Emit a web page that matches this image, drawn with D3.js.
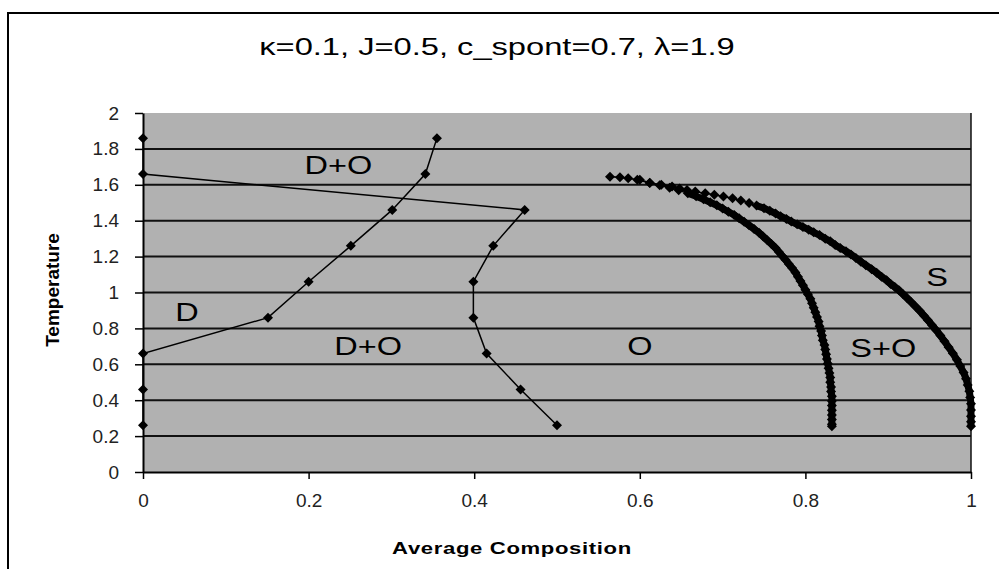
<!DOCTYPE html>
<html>
<head>
<meta charset="utf-8">
<script src="https://cdn.jsdelivr.net/npm/d3@7"></script>
<style>
  body { margin: 0; background: #fff; }
  svg text { font-family: "Liberation Sans", Arial, sans-serif; }
</style>
</head>
<body>
<div id="chart"></div>
<script>
// =========================
// DATA
// =========================
const title = "\u03ba=0.1, J=0.5, c_spont=0.7, \u03bb=1.9";
const xTitle = "Average Composition";
const yTitle = "Temperature";

const xTicks = [0, 0.2, 0.4, 0.6, 0.8, 1];
const yTicks = [0, 0.2, 0.4, 0.6, 0.8, 1, 1.2, 1.4, 1.6, 1.8, 2];

// boundary D+O / O (starts on the axis at high T)
const doRightX = [0, 0, 0.461, 0.423, 0.399, 0.399, 0.415, 0.456, 0.5];
const doRightT = [1.86, 1.66, 1.46, 1.26, 1.06, 0.86, 0.66, 0.46, 0.26];

// boundary D / D+O
const doLeftX = [0.355, 0.341, 0.301, 0.251, 0.2, 0.151, 0, 0, 0];
const doLeftT = [1.86, 1.66, 1.46, 1.26, 1.06, 0.86, 0.66, 0.46, 0.26];

// outer branch (S / S+O)
const sOuter = [
  [0.564, 1.645], [0.576, 1.642], [0.586, 1.636], [0.597, 1.628], [0.612, 1.610],
  [0.626, 1.600], [0.639, 1.590], [0.648, 1.580], [0.657, 1.571], [0.667, 1.562],
  [0.679, 1.553], [0.690, 1.545], [0.701, 1.535], [0.712, 1.525], [0.722, 1.512],
  [0.732, 1.499], [0.741, 1.484], [0.750, 1.470], [0.757, 1.455], [0.764, 1.440],
  [0.770, 1.425], [0.777, 1.410], [0.783, 1.395], [0.790, 1.380], [0.797, 1.365],
  [0.804, 1.350], [0.810, 1.335], [0.817, 1.320], [0.824, 1.300], [0.830, 1.285],
  [0.836, 1.265], [0.842, 1.248], [0.849, 1.230], [0.855, 1.212], [0.861, 1.192],
  [0.867, 1.172], [0.873, 1.152], [0.880, 1.130], [0.886, 1.110], [0.892, 1.088],
  [0.898, 1.068], [0.903, 1.048], [0.908, 1.030], [0.913, 1.012], [0.918, 0.990],
  [0.923, 0.968], [0.928, 0.945], [0.933, 0.922], [0.938, 0.898], [0.943, 0.872],
  [0.948, 0.845], [0.953, 0.818], [0.958, 0.790], [0.963, 0.760], [0.968, 0.728],
  [0.973, 0.695], [0.978, 0.662], [0.983, 0.625], [0.987, 0.590], [0.991, 0.555],
  [0.994, 0.520], [0.996, 0.485], [0.998, 0.450], [0.999, 0.415], [1.0, 0.380],
  [1.0, 0.345], [1.0, 0.310], [1.0, 0.280], [1.0, 0.255]
];

// inner branch (S+O / O)
const sInner = [
  [0.600, 1.628], [0.612, 1.612], [0.624, 1.598], [0.636, 1.584], [0.647, 1.569],
  [0.658, 1.553], [0.668, 1.536], [0.677, 1.519], [0.685, 1.503], [0.693, 1.486],
  [0.700, 1.468], [0.707, 1.450], [0.714, 1.432], [0.720, 1.413], [0.726, 1.394],
  [0.732, 1.374], [0.738, 1.354], [0.744, 1.333], [0.749, 1.312], [0.754, 1.291],
  [0.759, 1.270], [0.764, 1.248], [0.768, 1.226], [0.772, 1.204], [0.776, 1.182],
  [0.780, 1.159], [0.784, 1.136], [0.788, 1.112], [0.791, 1.088], [0.794, 1.064],
  [0.797, 1.040], [0.800, 1.015], [0.803, 0.990], [0.806, 0.965], [0.808, 0.940],
  [0.810, 0.915], [0.812, 0.890], [0.814, 0.864], [0.816, 0.838], [0.817, 0.812],
  [0.819, 0.786], [0.820, 0.760], [0.821, 0.734], [0.823, 0.708], [0.824, 0.682],
  [0.825, 0.656], [0.826, 0.630], [0.827, 0.604], [0.828, 0.578], [0.829, 0.552],
  [0.830, 0.526], [0.830, 0.500], [0.831, 0.474], [0.831, 0.448], [0.832, 0.422],
  [0.832, 0.396], [0.832, 0.370], [0.832, 0.344], [0.832, 0.318], [0.832, 0.292],
  [0.832, 0.266], [0.832, 0.255]
];

// region labels
const regionNames = ["D+O", "D", "D+O", "O", "S+O", "S"];
const regionX = [0.236, 0.053, 0.272, 0.600, 0.894, 0.959];
const regionT = [1.71, 0.89, 0.70, 0.70, 0.69, 1.086];

// =========================
// SETUP
// =========================
const width = 999;
const height = 569;
const margin = { top: 113, right: 28, bottom: 97, left: 143 };
const innerW = width - margin.left - margin.right;
const innerH = height - margin.top - margin.bottom;

const svg = d3.select("#chart")
  .append("svg")
  .attr("width", width)
  .attr("height", height);

// outer chart border
svg.append("path")
  .attr("d", `M8,${height + 2} L8,13 L${width + 2},13`)
  .attr("fill", "none")
  .attr("stroke", "#000")
  .attr("stroke-width", 2);

const g = svg.append("g")
  .attr("transform", `translate(${margin.left},${margin.top})`);

const x = d3.scaleLinear().domain([0, 1]).range([0, innerW]);
const y = d3.scaleLinear().domain([0, 2]).range([innerH, 0]);

// =========================
// PLOT AREA + GRID
// =========================
g.append("rect")
  .attr("width", innerW)
  .attr("height", innerH)
  .attr("fill", "#b1b1b1");

g.append("g")
  .selectAll("line")
  .data(yTicks.filter(d => d > 0 && d < 2))
  .enter()
  .append("line")
  .attr("x1", 0)
  .attr("x2", innerW)
  .attr("y1", d => y(d))
  .attr("y2", d => y(d))
  .attr("stroke", "#111")
  .attr("stroke-width", 2);

g.append("line")
  .attr("x1", innerW).attr("x2", innerW)
  .attr("y1", 0).attr("y2", innerH)
  .attr("stroke", "#111")
  .attr("stroke-width", 1.5);

// =========================
// AXES
// =========================
const fmt = d3.format("~g");

const xAxis = g.append("g")
  .attr("transform", `translate(0,${innerH})`)
  .call(d3.axisBottom(x).tickValues(xTicks).tickFormat(fmt).tickSize(7).tickSizeOuter(0).tickPadding(15));

const yAxis = g.append("g")
  .call(d3.axisLeft(y).tickValues(yTicks).tickFormat(fmt).tickSize(8).tickSizeOuter(0).tickPadding(16));

[xAxis, yAxis].forEach(ax => {
  ax.select(".domain").attr("stroke", "#000").attr("stroke-width", 2);
  ax.selectAll(".tick line").attr("stroke", "#000").attr("stroke-width", 1.5);
  ax.selectAll(".tick text")
    .attr("fill", "#222")
    .style("font-size", "19px")
    .style("font-family", "'Liberation Sans', Arial, sans-serif");
});

// =========================
// SERIES
// =========================
const line = d3.line().x(d => x(d[0])).y(d => y(d[1]));
const diamond = r => `M0,${-r}L${r},0L0,${r}L${-r},0Z`;

const thinSeries = [
  doRightX.map((v, i) => [v, doRightT[i]]),
  doLeftX.map((v, i) => [v, doLeftT[i]])
];

function drawMarkers(pts, r) {
  g.append("g")
    .selectAll("path")
    .data(pts)
    .enter()
    .append("path")
    .attr("d", diamond(r))
    .attr("transform", d => `translate(${x(d[0])},${y(d[1])})`)
    .attr("fill", "#000");
}

thinSeries.forEach(pts => {
  g.append("path")
    .attr("d", line(pts))
    .attr("fill", "none")
    .attr("stroke", "#000")
    .attr("stroke-width", 1.5);
  drawMarkers(pts, 5);
});

// dense series: the overlapping markers read as a thick band
[[sOuter, 16], [sInner, 5]].forEach(([pts, bandStart]) => {
  g.append("path")
    .attr("d", line(pts))
    .attr("fill", "none")
    .attr("stroke", "#000")
    .attr("stroke-width", 1.5);
  g.append("path")
    .attr("d", line(pts.slice(bandStart)))
    .attr("fill", "none")
    .attr("stroke", "#000")
    .attr("stroke-linejoin", "round")
    .attr("stroke-width", 7);
  drawMarkers(pts, 5);
});

// =========================
// REGION LABELS
// =========================
g.append("g")
  .selectAll("text")
  .data(regionNames)
  .enter()
  .append("text")
  .attr("transform", (d, i) => `translate(${x(regionX[i])},${y(regionT[i])}) scale(1.3,1)`)
  .attr("dy", "0.35em")
  .attr("text-anchor", "middle")
  .style("font-size", "25px")
  .attr("fill", "#000")
  .text(d => d);

// =========================
// TITLES
// =========================
svg.append("text")
  .attr("transform", "translate(497,47) scale(1.42,1)")
  .attr("dy", "0.35em")
  .attr("text-anchor", "middle")
  .style("font-size", "23px")
  .text(title);

svg.append("text")
  .attr("transform", "translate(512,548) scale(1.3,1)")
  .attr("dy", "0.35em")
  .attr("text-anchor", "middle")
  .style("font-size", "17px")
  .style("font-weight", "bold")
  .style("letter-spacing", "0.5px")
  .text(xTitle);

svg.append("text")
  .attr("transform", "translate(52,290) rotate(-90)")
  .attr("dy", "0.35em")
  .attr("text-anchor", "middle")
  .style("font-size", "19px")
  .style("font-weight", "bold")
  .text(yTitle);
</script>
</body>
</html>
